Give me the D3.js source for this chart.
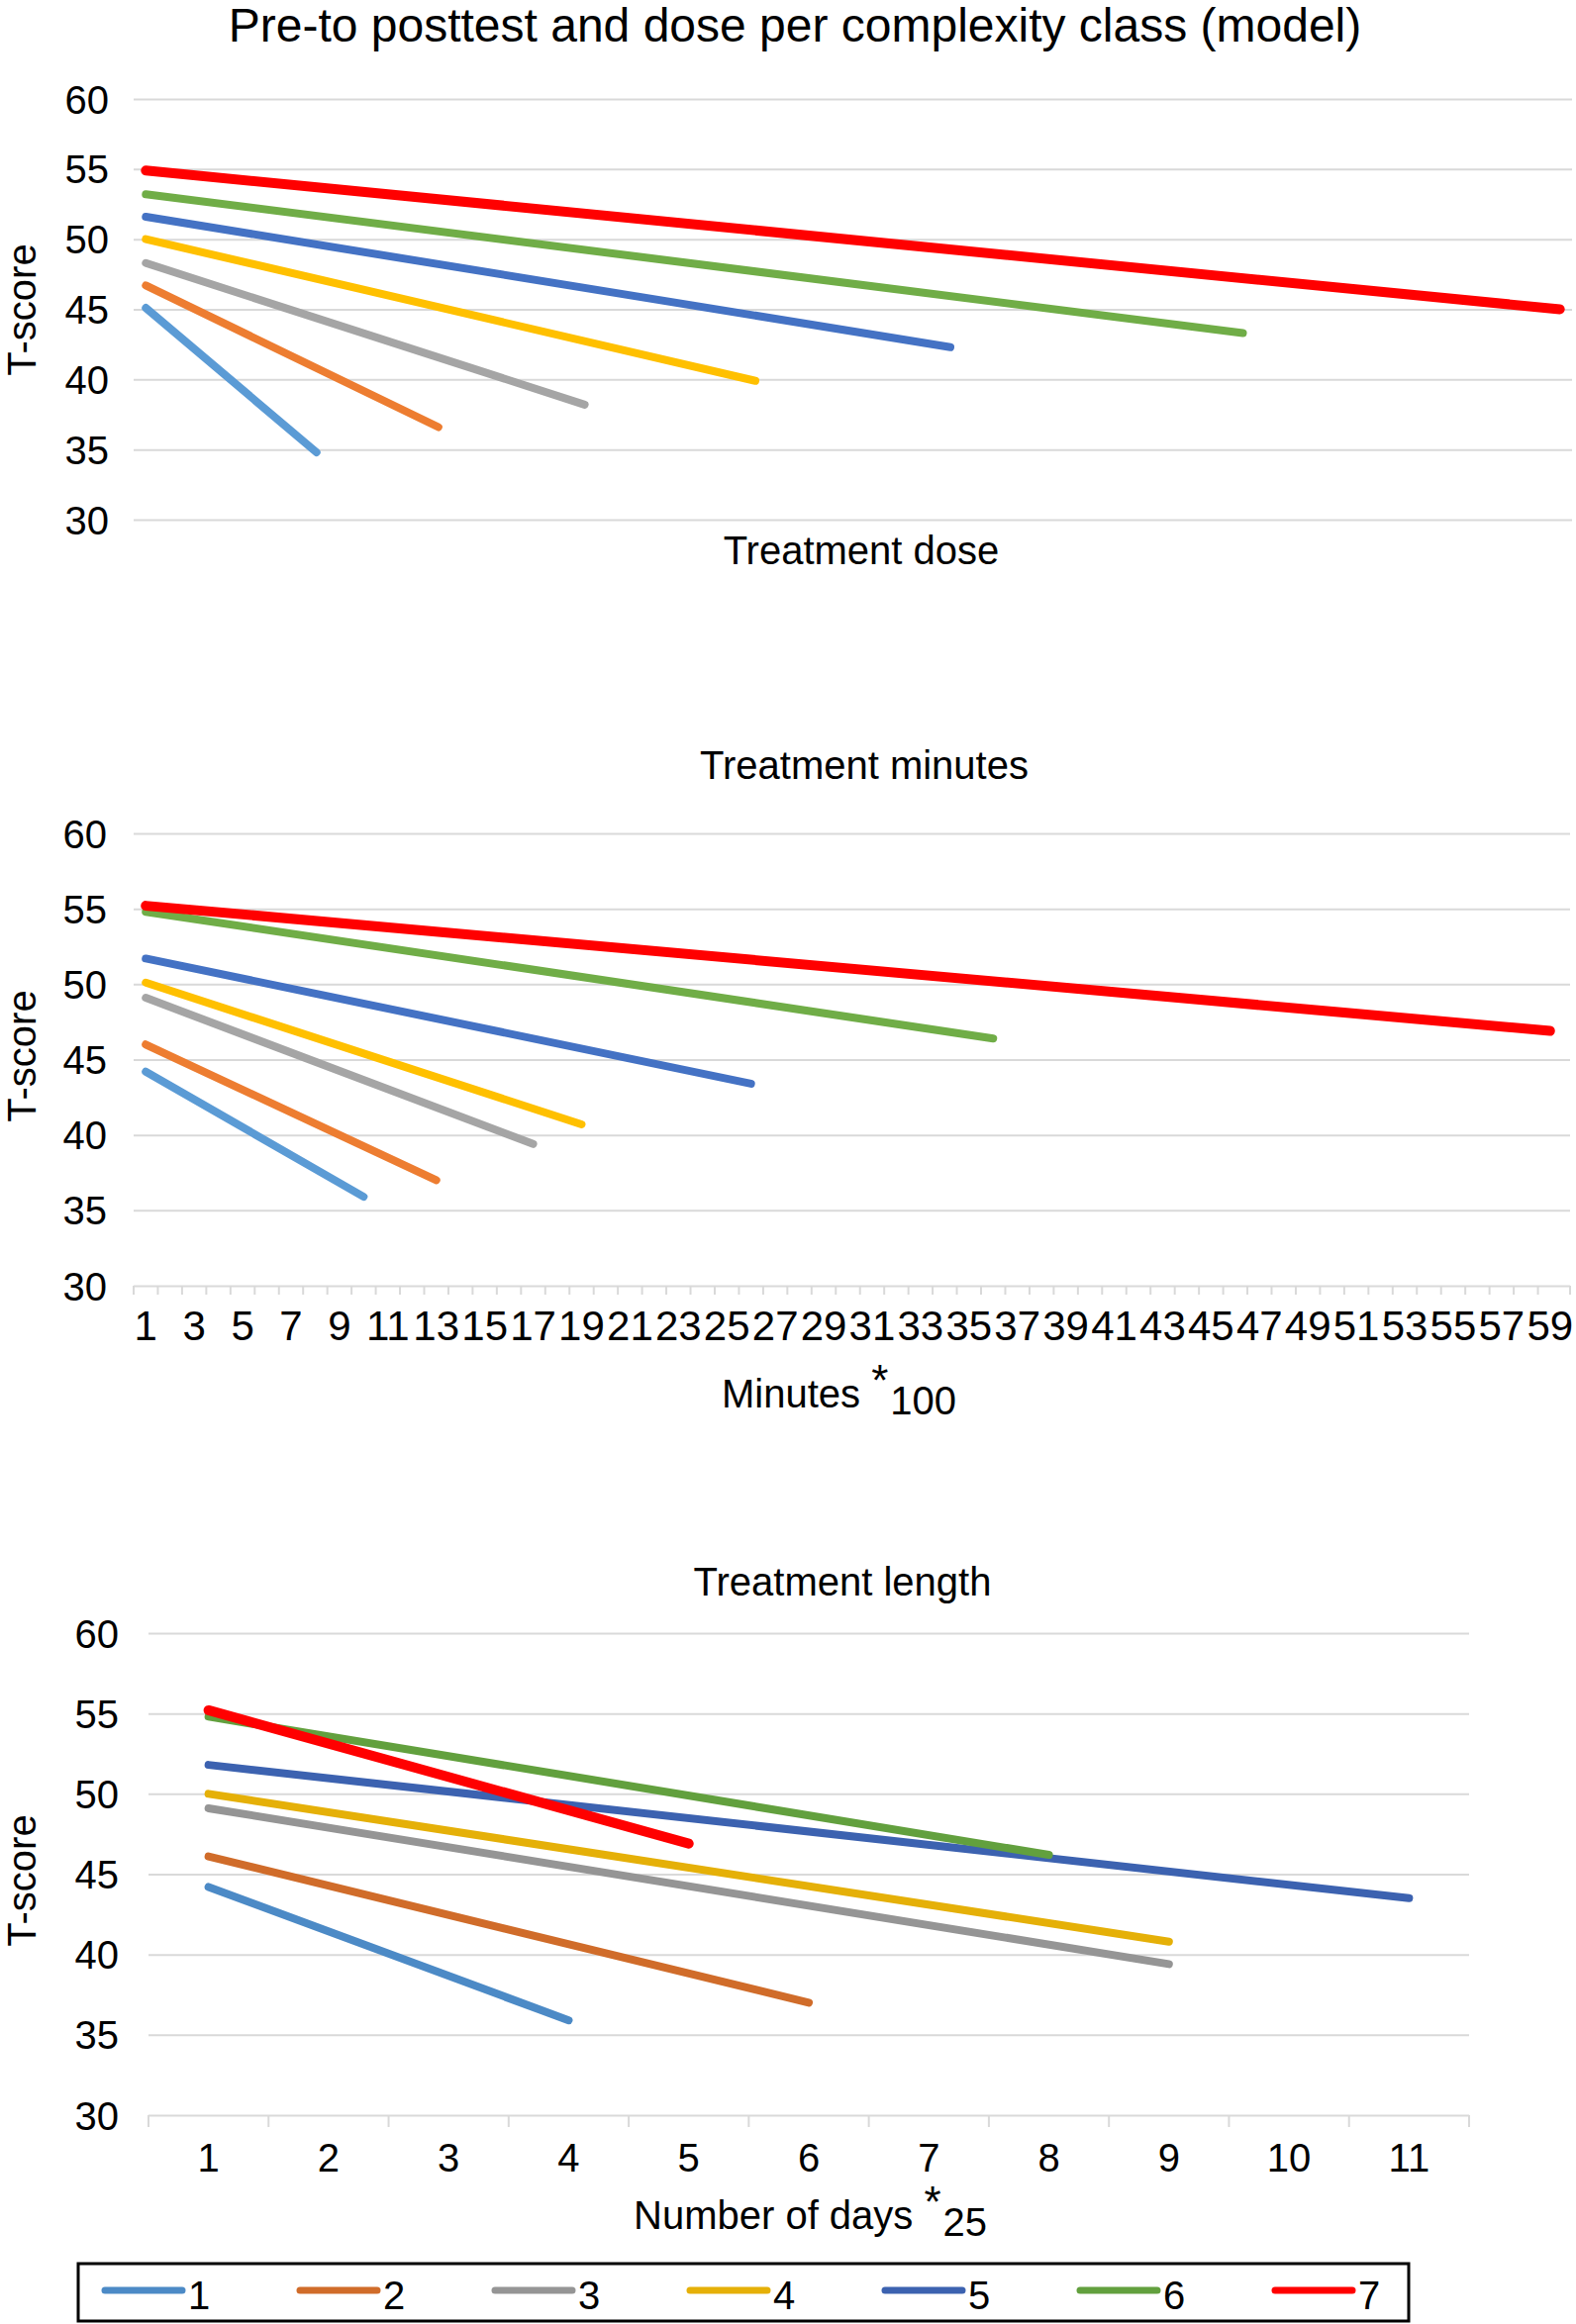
<!DOCTYPE html>
<html>
<head>
<meta charset="utf-8">
<script src="https://cdn.jsdelivr.net/npm/d3@7"></script>
<style>
  html, body { margin: 0; padding: 0; background: #fff; }
  svg { display: block; }
  text { font-family: "Liberation Sans", Arial, Helvetica, sans-serif; fill: #000; }
</style>
</head>
<body>
<svg id="chart" width="1592" height="2348"></svg>
<script>
// ---------------- DATA ----------------
const classes = ["1", "2", "3", "4", "5", "6", "7"];
const yTicks = [30, 35, 40, 45, 50, 55, 60];

// Panel 1: Treatment dose (category axis, labels not shown)
const doseCategories = [1,2,3,4,5,6,7,8,9,10,11,12,13,14,15,16,17,18,19,20,21,22,23,24,25,26,27,28,29,30,
  31,32,33,34,35,36,37,38,39,40,41,42,43,44,45,46,47,48,49,50,51,52,53,54,55,56,57,58,59];
const doseStartT = [45.1, 46.7, 48.3, 50.0, 51.6, 53.2, 54.9];
const doseEndT   = [34.8, 36.6, 38.2, 39.9, 42.3, 43.3, 45.0];
const doseEndCat = [8, 13, 19, 26, 34, 46, 59];

// Panel 2: Treatment minutes (*100)
const minuteCategories = [1,2,3,4,5,6,7,8,9,10,11,12,13,14,15,16,17,18,19,20,21,22,23,24,25,26,27,28,29,30,
  31,32,33,34,35,36,37,38,39,40,41,42,43,44,45,46,47,48,49,50,51,52,53,54,55,56,57,58,59];
const minuteTickLabels = [1,3,5,7,9,11,13,15,17,19,21,23,25,27,29,31,33,35,37,39,41,43,45,47,49,51,53,55,57,59];
const minuteStartT = [44.2, 46.0, 49.1, 50.1, 51.7, 54.8, 55.2];
const minuteEndT   = [35.9, 37.0, 39.4, 40.7, 43.4, 46.4, 46.9];
const minuteEndCat = [10, 13, 17, 19, 26, 36, 59];

// Panel 3: Treatment length (number of days *25)
const dayCategories = [1,2,3,4,5,6,7,8,9,10,11];
const dayStartT = [44.2, 46.1, 49.1, 50.0, 51.8, 54.8, 55.2];
const dayEndT   = [35.9, 37.0, 39.4, 40.8, 43.5, 46.2, 46.9];
const dayEndCat = [4, 6, 9, 9, 11, 8, 5];

// Colours
const colorsLight = ["#5B9BD5", "#ED7D31", "#A5A5A5", "#FFC000", "#4472C4", "#70AD47", "#FF0000"];
const colorsDark  = ["#4C8AC6", "#D06C2A", "#959595", "#E5B008", "#3C62B0", "#62A03E", "#FF0000"];

// ---------------- DRAW ----------------
const svg = d3.select("#chart");
const FONT = 40;
const GRID = "#d9d9d9";

svg.append("text")
  .attr("x", 803).attr("y", 42)
  .attr("text-anchor", "middle")
  .style("font-size", "48px")
  .text("Pre-to posttest and dose per complexity class (model)");

function drawPanel(cfg) {
  const g = svg.append("g");
  const x = d3.scaleBand().domain(cfg.categories).range([cfg.x0, cfg.x1]).paddingInner(0).paddingOuter(0);
  const y = d3.scaleLinear().domain([30, 60]).range([cfg.y30, cfg.y60]);
  const cx = c => x(c) + x.bandwidth() / 2;
  const gridEnd = cfg.gridX1 || cfg.x1;

  // gridlines
  const grid = g.append("g").attr("transform", `translate(${cfg.x0},0)`)
    .call(d3.axisLeft(y).tickValues(yTicks).tickSize(-(gridEnd - cfg.x0)).tickFormat(""));
  grid.select(".domain").remove();
  grid.selectAll(".tick line").attr("stroke", GRID).attr("stroke-width", 2);

  // y labels
  const yl = g.append("g").attr("transform", `translate(${cfg.labelRight},0)`)
    .call(d3.axisLeft(y).tickValues(yTicks).tickSize(0).tickPadding(0));
  yl.select(".domain").remove();
  yl.selectAll(".tick text").style("font-size", FONT + "px")
    .attr("font-family", null).attr("fill", "#000").attr("dy", "0.35em");

  // x axis boundary ticks
  if (cfg.tickLen) {
    const bounds = cfg.categories.map(c => x(c)).concat([gridEnd]);
    g.append("g").selectAll("line").data(bounds).join("line")
      .attr("x1", d => d).attr("x2", d => d)
      .attr("y1", cfg.y30).attr("y2", cfg.y30 + cfg.tickLen)
      .attr("stroke", GRID).attr("stroke-width", 2);
  }

  // x labels
  if (cfg.tickLabels) {
    const xa = g.append("g").attr("transform", `translate(0,${cfg.labelBaseline})`)
      .call(d3.axisBottom(x).tickValues(cfg.tickLabels).tickSize(0).tickPadding(0));
    xa.select(".domain").remove();
    xa.selectAll(".tick text").style("font-size", (cfg.xLabelFont || FONT) + "px")
      .attr("font-family", null).attr("fill", "#000").attr("y", 0).attr("dy", 0);
  }

  // series lines
  const line = d3.line().x(d => cx(d[0])).y(d => y(d[1]));
  const series = classes.map((k, i) => ({
    key: k, i,
    pts: [[cfg.categories[0], cfg.start[i]], [cfg.endCat[i], cfg.end[i]]]
  }));
  g.append("g").selectAll("path").data(series).join("path")
    .attr("d", d => line(d.pts))
    .attr("fill", "none")
    .attr("stroke", d => cfg.colors[d.i])
    .attr("stroke-width", d => d.i === 6 ? 10 : 8)
    .attr("stroke-linecap", "round");

  // panel title
  if (cfg.title) {
    g.append("text").attr("x", cfg.titleX).attr("y", cfg.titleY)
      .attr("text-anchor", "middle").style("font-size", FONT + "px").text(cfg.title);
  }
  // x axis title
  const xt = g.append("text").attr("x", cfg.xTitleX).attr("y", cfg.xTitleY)
    .attr("text-anchor", cfg.xTitleAnchor || "middle").style("font-size", FONT + "px");
  xt.append("tspan").text(cfg.xTitle);
  if (cfg.xTitleSup) {
    xt.append("tspan").attr("dy", -12).style("font-size", "44px").text("*");
    xt.append("tspan").attr("dx", 2).attr("dy", 19).text(cfg.xTitleSup);
  }
  // y axis title
  g.append("text")
    .attr("transform", `translate(${cfg.yTitleX},${cfg.yTitleY}) rotate(-90)`)
    .attr("text-anchor", "middle").attr("dy", "0.35em")
    .style("font-size", FONT + "px").text("T-score");
}

drawPanel({
  categories: doseCategories, start: doseStartT, end: doseEndT, endCat: doseEndCat,
  colors: colorsLight,
  x0: 135, x1: 1588, y60: 100, y30: 525, labelRight: 110,
  tickLen: 0, tickLabels: null,
  xTitle: "Treatment dose", xTitleX: 870, xTitleY: 570,
  yTitleX: 22, yTitleY: 313
});

drawPanel({
  categories: minuteCategories, start: minuteStartT, end: minuteEndT, endCat: minuteEndCat,
  colors: colorsLight,
  x0: 135, x1: 1578, gridX1: 1586, y60: 842, y30: 1299, labelRight: 108,
  tickLen: 9, tickLabels: minuteTickLabels, labelBaseline: 1354, xLabelFont: 42,
  title: "Treatment minutes", titleX: 873, titleY: 787,
  xTitle: "Minutes ", xTitleSup: "100", xTitleX: 729, xTitleY: 1422, xTitleAnchor: "start",
  yTitleX: 22, yTitleY: 1067
});

drawPanel({
  categories: dayCategories, start: dayStartT, end: dayEndT, endCat: dayEndCat,
  colors: colorsDark,
  x0: 150, x1: 1484, y60: 1650, y30: 2137, labelRight: 120,
  tickLen: 12, tickLabels: dayCategories, labelBaseline: 2194,
  title: "Treatment length", titleX: 851, titleY: 1612,
  xTitle: "Number of days ", xTitleSup: "25", xTitleX: 640, xTitleY: 2252, xTitleAnchor: "start",
  yTitleX: 22, yTitleY: 1900
});

// legend
const legend = svg.append("g");
legend.append("rect").attr("x", 79).attr("y", 2287).attr("width", 1344).attr("height", 58)
  .attr("fill", "none").attr("stroke", "#000").attr("stroke-width", 3);
const lx = d3.scalePoint().domain(classes).range([103, 1285]);
const items = legend.selectAll("g.item").data(classes).join("g").attr("class", "item")
  .attr("transform", d => `translate(${lx(d)},0)`);
items.append("line").attr("x1", 3).attr("x2", 81).attr("y1", 2314).attr("y2", 2314)
  .attr("stroke", (d, i) => colorsDark[i]).attr("stroke-width", 7).attr("stroke-linecap", "round");
items.append("text").attr("x", 87).attr("y", 2333).style("font-size", FONT + "px").text(d => d);
</script>
</body>
</html>
